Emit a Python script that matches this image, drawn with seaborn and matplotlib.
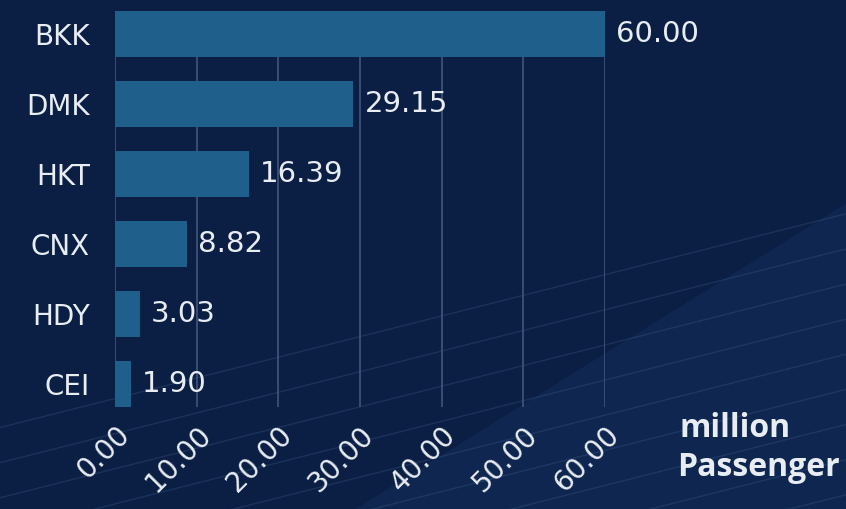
import numpy as np
import pandas as pd
import seaborn as sns
import matplotlib.pyplot as plt

# DATA
airports = ["BKK", "DMK", "HKT", "CNX", "HDY", "CEI"]
passengers = [60.00, 29.15, 16.39, 8.82, 3.03, 1.90]
x_ticks = [0, 10, 20, 30, 40, 50, 60]

BG = "#0b1f45"
BAR = "#1f5f8c"
TXT = "#e8edf4"


def main():
    df = pd.DataFrame({"airport": airports, "passengers": passengers})

    sns.set_style("dark")
    plt.rcParams["font.family"] = ["DejaVu Sans"]

    fig = plt.figure(figsize=(8.46, 5.09), dpi=100, facecolor=BG)

    # background decoration (faint diagonal streaks, lower right)
    bg = fig.add_axes([0, 0, 1, 1], zorder=0)
    bg.set_xlim(0, 1)
    bg.set_ylim(0, 1)
    bg.axis("off")
    bg.add_patch(plt.Polygon([[0.42, 0], [1, 0.6], [1, 0]], color="#13305c", alpha=0.5, lw=0))
    for off in np.arange(0.16, -0.5, -0.069):
        xs = np.array([0.0, 1.0])
        bg.plot(xs, off + 0.42 * xs, color="#4a6a98", lw=1.0, alpha=0.25)

    ax = fig.add_axes([0.136, 0.2004, 0.579, 0.778], zorder=1)
    ax.set_facecolor("none")
    sns.barplot(data=df, x="passengers", y="airport", orient="h", color=BAR,
                saturation=1, width=0.66, linewidth=0, ax=ax, zorder=3)

    ax.set_xlim(0, 60)
    ax.set_ylim(len(airports) - 0.67, -0.33)
    ax.set_xticks(x_ticks)
    ax.set_xticklabels([f"{t:.2f}" for t in x_ticks], rotation=45, ha="right",
                       rotation_mode="anchor", color=TXT, fontsize=20)
    ax.tick_params(axis="y", colors=TXT, labelsize=20, length=0, pad=18)
    ax.tick_params(axis="x", length=0, pad=10)
    ax.grid(axis="x", color="#42557b", lw=1.2, zorder=0)
    ax.grid(axis="y", visible=False)
    for s in ax.spines.values():
        s.set_visible(False)
    ax.set_xlabel("")
    ax.set_ylabel("")

    for i, v in enumerate(passengers):
        ax.text(v + 1.4, i, f"{v:.2f}", va="center", ha="left", color=TXT,
                fontsize=21, clip_on=False)

    fig.text(0.803, 0.158, "million", color=TXT, fontsize=23, fontweight="bold",
             family=["Open Sans", "DejaVu Sans"], ha="left", va="center")
    fig.text(0.800, 0.082, "Passenger", color=TXT, fontsize=23, fontweight="bold",
             family=["Open Sans", "DejaVu Sans"], ha="left", va="center")

    fig.savefig("out.png", dpi=100, facecolor=BG)
    plt.close(fig)


if __name__ == "__main__":
    main()
